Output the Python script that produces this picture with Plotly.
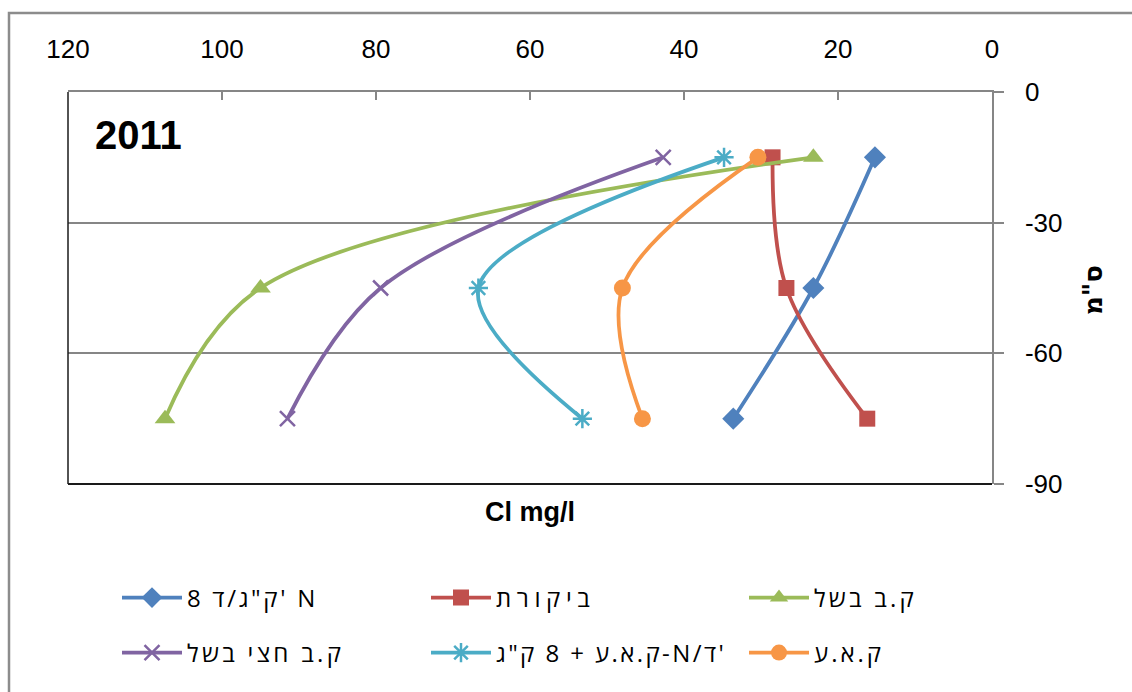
import plotly.graph_objects as go

# ---- data ----
depth = [-15, -45, -75]
n8 = [15.2, 23.2, 33.6]            # 8 ק"ג/ד' N
control = [28.5, 26.7, 16.2]       # ביקורת
mature = [23.2, 95.0, 107.4]       # ק.ב בשל
half_mature = [42.7, 79.4, 91.5]   # ק.ב חצי בשל
kae_n8 = [34.8, 66.7, 53.2]        # ק.א.ע + 8 ק"ג-N/ד'
kae = [30.4, 48.0, 45.4]           # ק.א.ע

names = ["8 ק\"ג/ד' N", "ביקורת", "ק.ב בשל",
         "ק.ב חצי בשל", "ק.א.ע + 8 ק\"ג-N/ד'", "ק.א.ע"]
series = [n8, control, mature, half_mature, kae_n8, kae]
colors = ["#4F81BD", "#C0504D", "#9BBB59", "#8064A2", "#4BACC6", "#F79646"]
symbols = ["diamond", "square", "triangle-up", "x-thin", "asterisk", "circle"]
msizes = [17, 16, 18, 15, 16, 17]
# letter spacing (px) of each legend label, to match the wider original font
spacing = [2.7, 5.6, 3.2, 3.3, 2.4, 3.0]

x_ticks = [120, 100, 80, 60, 40, 20, 0]
y_ticks = [0, -30, -60, -90]
y_ticktext = ["0", "-30", "-60", "-90"]

W, H = 1132, 692
L, R, T, B = 68, 992, 92, 484
pw, ph = R - L, B - T

def px(x):
    return (x - L) / pw

def py(y):
    return (B - y) / ph

# legend slot positions (pixels): left edge, row centre
leg_x = [117, 426, 744, 117, 426, 744]
leg_y = [598, 598, 598, 653, 653, 653]
leg_ids = ["legend", "legend2", "legend3", "legend4", "legend5", "legend6"]

fig = go.Figure()
for nm, vals, col, sym, ms, lg, sp in zip(names, series, colors, symbols, msizes,
                                          leg_ids, spacing):
    fig.add_trace(go.Scatter(
        x=vals, y=depth, mode="lines+markers",
        name='<span style="letter-spacing:%spx">%s</span>' % (sp, nm),
        line=dict(color=col, width=3.8, shape="spline", smoothing=1),
        marker=dict(symbol=sym, size=ms, color=col,
                    line=dict(color=col, width=2.5 if sym in ("x-thin", "asterisk") else 0)),
        legend=lg,
    ))

grid = "#868686"
layout = dict(
    width=W, height=H,
    margin=dict(l=L, r=W - R, t=T, b=H - B, autoexpand=False),
    paper_bgcolor="white", plot_bgcolor="white",
    font=dict(family="Liberation Sans", color="black"),
    showlegend=True,
    xaxis=dict(range=[120, 0], tickvals=x_ticks, side="top", showgrid=False,
               zeroline=False, showline=True, linecolor=grid, linewidth=1.5,
               ticks="inside", ticklen=8, tickcolor=grid, tickwidth=1.5,
               ticklabelstandoff=22,
               tickfont=dict(family="Liberation Sans", size=26, color="black")),
    yaxis=dict(range=[-90, 0], tickvals=y_ticks, ticktext=y_ticktext, side="right",
               showgrid=True, gridcolor=grid, gridwidth=1.5, zeroline=False,
               showline=True, linecolor=grid, linewidth=1.5, ticks="outside",
               ticklen=10, tickcolor=grid, tickwidth=1.5, ticklabelstandoff=16,
               tickfont=dict(family="Liberation Sans", size=26, color="black")),
)
for lid, lx, ly in zip(leg_ids, leg_x, leg_y):
    layout[lid] = dict(x=px(lx), y=py(ly), xanchor="left", yanchor="middle",
                       orientation="h", itemwidth=60, bgcolor="rgba(0,0,0,0)",
                       font=dict(family="Open Sans", size=24, color="black"))
fig.update_layout(**layout)

# plot-area dark left & bottom borders
fig.add_shape(type="line", xref="paper", yref="paper", x0=0, x1=0, y0=0, y1=1,
              line=dict(color="#1a1a1a", width=1.5))
fig.add_shape(type="line", xref="paper", yref="paper", x0=0, x1=1, y0=0, y1=0,
              line=dict(color="#1a1a1a", width=2))
# outer chart border
fig.add_shape(type="rect", xref="paper", yref="paper",
              x0=px(9), x1=px(1145), y0=py(705), y1=py(13),
              line=dict(color="#8c8c8c", width=2.5), layer="below")

fig.add_annotation(text="<b>2011</b>", xref="paper", yref="paper",
                   x=px(93), y=py(135), xanchor="left", yanchor="middle",
                   showarrow=False, font=dict(family="Liberation Sans", size=40, color="black"))
fig.add_annotation(text="<b>Cl mg/l</b>", xref="paper", yref="paper",
                   x=px(530), y=py(512), xanchor="center", yanchor="middle",
                   showarrow=False, font=dict(family="Liberation Sans", size=27, color="black"))
fig.add_annotation(text="<b>ס\"מ</b>", xref="paper", yref="paper",
                   x=px(1093), y=py(290), xanchor="center", yanchor="middle",
                   textangle=-90, showarrow=False,
                   font=dict(family="DejaVu Sans", size=26, color="black"))

fig.write_html("out.html")
